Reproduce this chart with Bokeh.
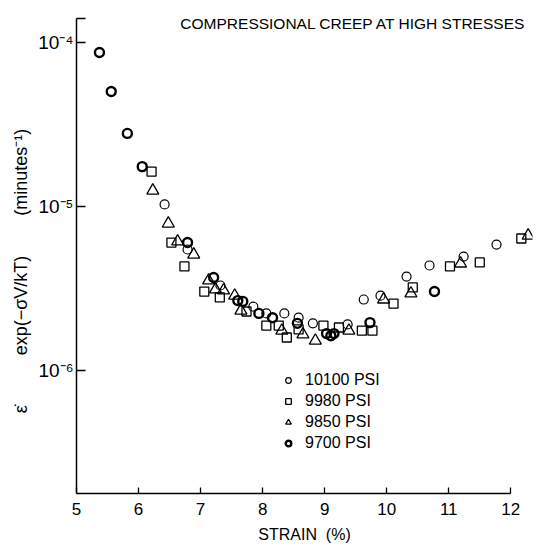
from bokeh.plotting import figure
from bokeh.models import Range1d, FixedTicker, CustomJSTickFormatter, Label, Legend
from bokeh.embed import file_html
from bokeh.resources import INLINE

# ---- data (strain %, normalized creep rate in 1/min) ----
x_10100 = [6.42, 6.79, 7.32, 7.85, 8.06, 8.35, 8.58, 8.81, 9.37, 9.63, 9.90, 10.32, 10.69, 11.24, 11.77]
y_10100 = [1.03e-5, 5.47e-6, 3.30e-6, 2.45e-6, 2.23e-6, 2.23e-6, 2.10e-6, 1.94e-6, 1.91e-6, 2.71e-6,
           2.86e-6, 3.74e-6, 4.37e-6, 4.95e-6, 5.86e-6]

x_9980 = [6.21, 6.53, 6.74, 7.06, 7.31, 7.74, 8.06, 8.26, 8.39, 8.58, 8.98, 9.23, 9.60, 9.77,
          10.11, 10.42, 11.02, 11.50, 12.17]
y_9980 = [1.63e-5, 6.03e-6, 4.31e-6, 3.03e-6, 2.79e-6, 2.29e-6, 1.88e-6, 1.88e-6, 1.59e-6, 1.78e-6,
          1.88e-6, 1.83e-6, 1.75e-6, 1.75e-6, 2.56e-6, 3.21e-6, 4.31e-6, 4.56e-6, 6.38e-6]

x_9850 = [6.23, 6.48, 6.63, 6.89, 7.13, 7.24, 7.37, 7.55, 7.65, 8.31, 8.65, 8.85, 9.39, 9.95,
          10.39, 11.19, 12.28]
y_9850 = [1.25e-5, 7.87e-6, 6.12e-6, 5.09e-6, 3.54e-6, 3.12e-6, 3.08e-6, 2.86e-6, 2.32e-6, 1.75e-6,
          1.66e-6, 1.52e-6, 1.75e-6, 2.71e-6, 2.95e-6, 4.49e-6, 6.65e-6]

x_9700 = [5.37, 5.56, 5.82, 6.06, 6.79, 7.21, 7.60, 7.68, 7.94, 8.16, 8.56, 9.03, 9.10, 9.15, 9.73, 10.77]
y_9700 = [8.69e-5, 5.02e-5, 2.79e-5, 1.75e-5, 6.03e-6, 3.69e-6, 2.67e-6, 2.64e-6, 2.23e-6, 2.10e-6,
          1.94e-6, 1.68e-6, 1.63e-6, 1.68e-6, 1.96e-6, 3.03e-6]

series_labels = ["10100 PSI", "9980 PSI", "9850 PSI", "9700 PSI"]

xticks = [5, 6, 7, 8, 9, 10, 11, 12]
yticks = [1e-6, 1e-5, 1e-4]
ytick_labels = ["10\u207b\u2076", "10\u207b\u2075", "10\u207b\u2074"]

title_text = "COMPRESSIONAL CREEP AT HIGH STRESSES"
x_title = "STRAIN\u00a0\u00a0(%)"
NB = "\u00a0"
y_title = "\u03b5\u0307" + NB * 10 + "exp(\u2212\u03c3V/kT)" + NB * 8 + "(minutes\u207b\u00b9)" + NB * 6

X_MIN, X_MAX = 5.0, 12.35
Y_MIN, Y_MAX = 1.78e-7, 1.40e-4

FONT = "Liberation Sans"

p = figure(width=540, height=549, output_backend="svg", toolbar_location=None,
           y_axis_type="log",
           x_range=Range1d(X_MIN, X_MAX), y_range=Range1d(Y_MIN, Y_MAX),
           min_border_left=76, min_border_right=8, min_border_top=18, min_border_bottom=56)

p.outline_line_color = None
p.xgrid.grid_line_color = None
p.ygrid.grid_line_color = None
p.background_fill_color = "white"
p.border_fill_color = "white"

r1 = p.scatter(x_10100, y_10100, marker="circle", size=9, fill_color=None,
               line_color="black", line_width=1.2)
r2 = p.scatter(x_9980, y_9980, marker="square", size=9, fill_color=None,
               line_color="black", line_width=1.3)
r3 = p.scatter(x_9850, y_9850, marker="triangle", size=12, fill_color=None,
               line_color="black", line_width=1.3)
r4 = p.scatter(x_9700, y_9700, marker="circle", size=9, fill_color=None,
               line_color="black", line_width=2.4)

legend = Legend(items=[(series_labels[0], [r1]), (series_labels[1], [r2]),
                       (series_labels[2], [r3]), (series_labels[3], [r4])],
                location=(205, 41), orientation="vertical")
legend.background_fill_alpha = 0
legend.border_line_color = None
legend.padding = 0
legend.margin = 0
legend.spacing = 3
legend.glyph_width = 14
legend.glyph_height = 14
legend.label_standoff = 10
legend.label_text_font = FONT
legend.label_text_font_size = "16px"
legend.label_text_color = "black"
legend.label_height = 14
p.add_layout(legend, "center")

# x axis
xa = p.xaxis[0]
xa.ticker = FixedTicker(ticks=xticks)
xa.bounds = (5, 12)
xa.axis_line_width = 1.5
xa.major_tick_in = 6
xa.major_tick_out = 0
xa.major_tick_line_width = 1.3
xa.minor_tick_line_color = None
xa.major_label_text_font = FONT
xa.major_label_text_font_size = "17px"
xa.major_label_text_color = "black"
xa.major_label_standoff = 9
xa.axis_label = x_title
xa.axis_label_text_font = FONT
xa.axis_label_text_font_style = "normal"
xa.axis_label_text_font_size = "16px"
xa.axis_label_text_color = "black"
xa.axis_label_standoff = 8

# y axis
ya = p.yaxis[0]
ya.ticker = FixedTicker(ticks=yticks + [Y_MAX])
ya.formatter = CustomJSTickFormatter(args=dict(yt=yticks, yl=ytick_labels), code="""
    for (let i = 0; i < yt.length; i++) {
        if (Math.abs(Math.log10(tick) - Math.log10(yt[i])) < 1e-6) return yl[i];
    }
    return "";
""")
ya.axis_line_width = 1.5
ya.major_tick_in = 9
ya.major_tick_out = 0
ya.major_tick_line_width = 1.3
ya.minor_tick_line_color = None
ya.major_label_text_font = FONT
ya.major_label_text_font_size = "19px"
ya.major_label_text_color = "black"
ya.major_label_standoff = 3
ya.axis_label = y_title
ya.axis_label_text_font = FONT
ya.axis_label_text_font_style = "normal"
ya.axis_label_text_font_size = "18px"
ya.axis_label_text_color = "black"
ya.axis_label_standoff = 4

p.add_layout(Label(x=X_MAX - 0.1, y=Y_MAX, y_offset=-13, text=title_text,
                   text_font=FONT, text_font_size="15.5px", text_align="right",
                   text_baseline="bottom", text_color="black"))

open("out.html", "w").write(file_html(p, INLINE))
